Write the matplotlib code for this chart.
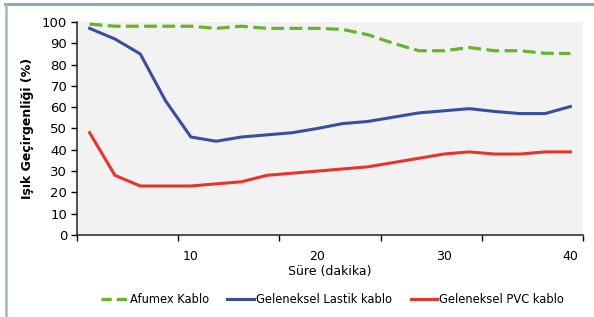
import numpy as np
import matplotlib.pyplot as plt
from matplotlib.lines import Line2D
from matplotlib.ticker import FixedLocator

# Süre (dakika)
sure = [2, 4, 6, 8, 10, 12, 14, 16, 18, 20, 22, 24, 26, 28, 30, 32, 34, 36, 38, 40]

# Işık geçirgenliği (%)
afumex = [99, 98, 98, 98, 98, 97, 98, 97, 97, 97, 96.5, 94, 90, 86.5, 86.5, 88, 86.5, 86.5, 85.3, 85.2]
lastik = [97, 92, 85, 63, 46, 44, 46, 47, 48, 50, 52.3, 53.3, 55.3, 57.3, 58.3, 59.3, 58, 57, 57, 60.3]
pvc = [48, 28, 23, 23, 23, 24, 25, 28, 29, 30, 31, 32, 34, 36, 38, 39, 38, 38, 39, 39]

x_etiketleri = [10, 20, 30, 40]
seri_adlari = ["Afumex Kablo", "Geleneksel Lastik kablo", "Geleneksel PVC kablo"]

yesil = "#66b32e"
mavi = "#3a4ea0"
kirmizi = "#e8352a"

plt.rcParams["font.family"] = "DejaVu Sans"

fig = plt.figure(figsize=(5.94, 3.17), dpi=100)
ax = fig.add_axes([0.1296, 0.2587, 0.852, 0.672])
ax.set_facecolor("#f2f2f2")

kesik = (0, (4, 1.7))
ax.plot(sure, afumex, color=yesil, lw=2.3, ls=kesik, solid_capstyle="butt")
ax.plot(sure, lastik, color=mavi, lw=2.2)
ax.plot(sure, pvc, color=kirmizi, lw=2.2)

ax.set_xlim(1, 41)
ax.set_ylim(0, 100)
ax.set_yticks(np.arange(0, 101, 10))
ax.set_xticks(x_etiketleri)
ax.xaxis.set_minor_locator(FixedLocator([1, 9, 17, 25, 33, 41]))
ax.tick_params(axis="x", which="major", length=0, pad=11, labelsize=9)
ax.tick_params(axis="x", which="minor", length=4, width=1, direction="out")
ax.tick_params(axis="y", length=4, width=1, pad=3, labelsize=9.5)

for s in ["top", "right"]:
    ax.spines[s].set_visible(False)
for s in ["left", "bottom"]:
    ax.spines[s].set_linewidth(1.1)
    ax.spines[s].set_color("#222222")

ax.set_xlabel("Süre (dakika)", fontsize=9, labelpad=1)
ax.set_ylabel("Işık Geçirgenliği (%)", fontsize=9, fontweight="bold", labelpad=6)

handles = [
    Line2D([], [], color=yesil, lw=2.3, ls=(0, (3.2, 1.6))),
    Line2D([], [], color=mavi, lw=2.2),
    Line2D([], [], color=kirmizi, lw=2.2),
]
fig.legend(handles, seri_adlari, loc="center", bbox_to_anchor=(0.56, 0.054),
           ncol=3, frameon=False, fontsize=8.3, handlelength=2.3,
           handletextpad=0.2, columnspacing=1.6)

# dış çerçeve
fig.add_artist(Line2D([0.009, 1.0], [0.987, 0.987], transform=fig.transFigure,
                      color="#8ea6bd", lw=2.2))
fig.add_artist(Line2D([0.01, 0.01], [0.0, 0.987], transform=fig.transFigure,
                      color="#9db6cf", lw=1.8))

fig.savefig("out.png", dpi=100)
